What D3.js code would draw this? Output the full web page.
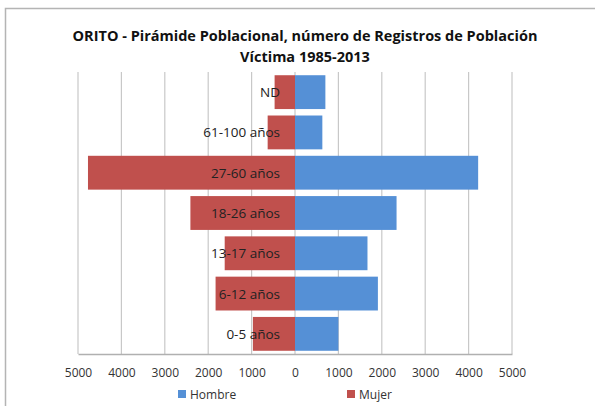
<!DOCTYPE html>
<html>
<head>
<meta charset="utf-8">
<script src="https://cdn.jsdelivr.net/npm/d3@7"></script>
<style>
  body { margin: 0; background: #fff; }
  text { font-family: "Open Sans", "Liberation Sans", sans-serif; }
</style>
</head>
<body>
<svg id="svg"></svg>
<script>
// datos
var categories = ["ND", "61-100 años", "27-60 años", "18-26 años", "13-17 años", "6-12 años", "0-5 años"];
var hombre = [700, 630, 4220, 2340, 1670, 1910, 1000];
var mujer = [470, 630, 4770, 2410, 1620, 1830, 970];
var ticks = [-5000, -4000, -3000, -2000, -1000, 0, 1000, 2000, 3000, 4000, 5000];
var seriesNames = ["Hombre", "Mujer"];
var colors = ["#5590d6", "#c0504d"];

var width = 595, height = 406;
var margin = {left: 78, right: 83, top: 72, bottom: 52};
var plot_w = width - margin.left - margin.right;
var plot_h = height - margin.top - margin.bottom;

var svg = d3.select("#svg").attr("width", width).attr("height", height);

// marco del grafico
svg.append("rect")
    .attr("x", 5.5).attr("y", 8.5)
    .attr("width", 600).attr("height", 420)
    .attr("fill", "none")
    .attr("stroke", "#b4b4b4")
    .attr("stroke-width", 1.5);

svg.append("text")
    .attr("x", 305).attr("y", 41)
    .attr("text-anchor", "middle")
    .attr("font-size", 14.5).attr("font-weight", "bold").attr("fill", "#111")
    .text("ORITO - Pirámide Poblacional, número de Registros de Población");
svg.append("text")
    .attr("x", 305).attr("y", 62)
    .attr("text-anchor", "middle")
    .attr("font-size", 14.5).attr("font-weight", "bold").attr("fill", "#111")
    .text("Víctima 1985-2013");

var container = svg.append("g").attr("transform", `translate(${margin.left}, ${margin.top})`);

var xScale = d3.scaleLinear().domain([-5000, 5000]).range([0, plot_w]);
var yScale = d3.scaleBand().domain(categories).range([0, plot_h]).paddingInner(0.16).paddingOuter(0.08);

// lineas de cuadricula
container.selectAll(".grid")
    .data(ticks)
    .enter()
    .append("line")
    .attr("x1", d => xScale(d)).attr("x2", d => xScale(d))
    .attr("y1", 0).attr("y2", plot_h)
    .attr("stroke", "#c8c8c8").attr("stroke-width", 1.2);

container.selectAll(".mujer")
    .data(categories)
    .enter()
    .append("rect")
    .attr("x", (d, i) => xScale(-mujer[i]))
    .attr("y", d => yScale(d))
    .attr("width", (d, i) => xScale(0) - xScale(-mujer[i]))
    .attr("height", yScale.bandwidth())
    .style("fill", colors[1]);

container.selectAll(".hombre")
    .data(categories)
    .enter()
    .append("rect")
    .attr("x", xScale(0))
    .attr("y", d => yScale(d))
    .attr("width", (d, i) => xScale(hombre[i]) - xScale(0))
    .attr("height", yScale.bandwidth())
    .style("fill", colors[0]);

// etiquetas de categoria
container.selectAll(".cat")
    .data(categories)
    .enter()
    .append("text")
    .attr("x", xScale(0) - 15)
    .attr("y", d => yScale(d) + yScale.bandwidth() / 2 + 5)
    .attr("text-anchor", "end")
    .attr("font-size", 13.5).attr("fill", "#222")
    .text(d => d);

// eje x
var xAxis = container.append("g")
    .attr("transform", `translate(0, ${plot_h})`)
    .call(d3.axisBottom(xScale).tickValues(ticks).tickSize(0).tickPadding(14).tickFormat(d => Math.abs(d)));
xAxis.select(".domain").attr("stroke", "#b0b0b0").attr("stroke-width", 1.5);
xAxis.selectAll("text").attr("font-size", 12).attr("fill", "#333")
    .style("font-family", "'Open Sans', 'Liberation Sans', sans-serif");

// leyenda
var legendX = [178, 347];
var legend = svg.selectAll(".legend")
    .data(seriesNames)
    .enter()
    .append("g")
    .attr("transform", (d, i) => `translate(${legendX[i]}, 390)`);
legend.append("rect").attr("width", 8).attr("height", 8).attr("fill", (d, i) => colors[i]);
legend.append("text").attr("x", 12).attr("y", 9)
    .attr("font-size", 12).attr("fill", "#333").text(d => d);
</script>
</body>
</html>
